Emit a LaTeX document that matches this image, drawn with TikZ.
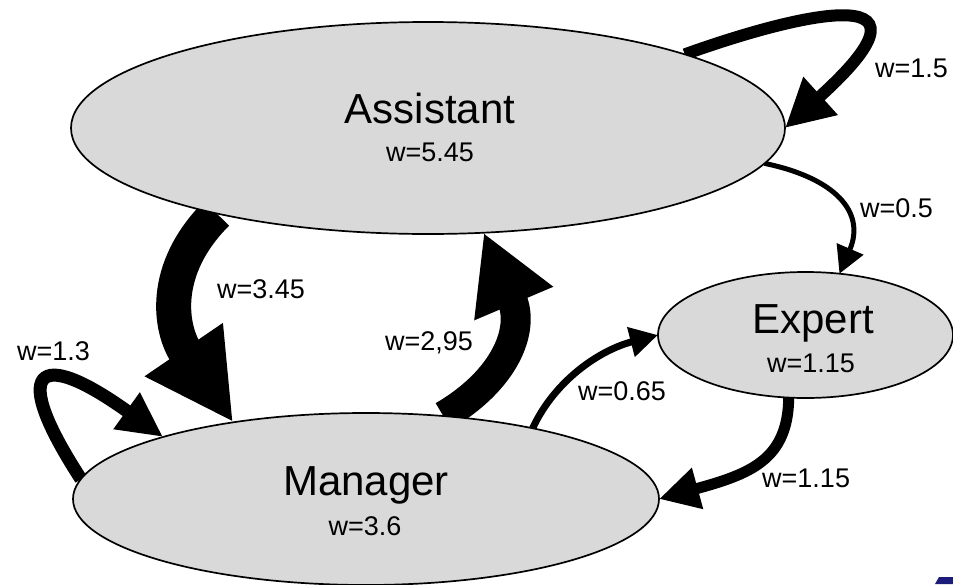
\documentclass[tikz,border=0pt]{standalone}
\usepackage{fontspec}
\setmainfont{Liberation Sans}
\usetikzlibrary{arrows.meta,shapes.geometric,backgrounds}
\definecolor{nodegray}{HTML}{D9D9D9}
\definecolor{cornerblue}{HTML}{1C1C7A}
\begin{document}
\begin{tikzpicture}[x=1pt,y=-1pt,
  state/.style={ellipse, draw=black, line width=1.7pt, fill=nodegray, inner sep=0pt, outer sep=0pt},
  bigtext/.style={font=\fontsize{42}{48}\selectfont, inner sep=0pt, anchor=base},
  smalltext/.style={font=\fontsize{27}{32}\selectfont, inner sep=0pt, anchor=base},
  elabel/.style={font=\fontsize{27}{32}\selectfont, inner sep=0pt, anchor=base west},
  conn/.style={draw=black}
]
\useasboundingbox (0,0) rectangle (953,584);

% states
\node[state, minimum width=714pt, minimum height=212pt] (A) at (428,128) {};
\node[state, minimum width=295pt, minimum height=126pt] (E) at (805.5,335) {};
\node[state, minimum width=586pt, minimum height=172pt] (M) at (366,499) {};

% state texts
\node[bigtext] (At) at (430,123) {Assistant};
\node[smalltext] (Aw) at (430,161) {w=5.45};
\node[bigtext] (Et) at (813,333) {Expert};
\node[smalltext] (Ew) at (811,372) {w=1.15};
\node[bigtext] (Mt) at (366,495) {Manager};
\node[smalltext] (Mw) at (365,535) {w=3.6};

% connectors
\begin{scope}[on background layer]
  \draw[conn, line width=12pt, -{Triangle[length=48pt,width=48pt]}]
    (A.16.5) .. controls (780,20) and (960,-30) .. (A.0);
  \draw[conn, line width=5pt, -{Triangle[length=27pt,width=28pt]}]
    (A.354) .. controls (835,178) and (866,212) .. (E.61.6);
  \draw[conn, line width=35pt, -{Triangle[length=88pt,width=88pt]}]
    (A.202.4) .. controls (160,270) and (170,329.5) .. (M.150.9);
  \draw[conn, line width=30pt, -{Triangle[length=77pt,width=80pt]}]
    (M.47.8) .. controls (505,380) and (525,330) .. (A.298);
  \draw[conn, line width=13pt, -{Triangle[length=45pt,width=42pt]}]
    (M.176.2) .. controls (10,370) and (35,345) .. (M.163);
  \draw[conn, line width=7pt, -{Triangle[length=28pt,width=29pt]}]
    (M.23.7) .. controls (555,380) and (600,350) .. (E.180);
  \draw[conn, line width=11pt, -{Triangle[length=40pt,width=40pt]}]
    (E.255.3) .. controls (788,460) and (750,474) .. (M.0);
\end{scope}

% connector labels
\node[elabel] (l1) at (875,77) {w=1.5};
\node[elabel] (l2) at (860,217) {w=0.5};
\node[elabel] (l3) at (217,298) {w=3.45};
\node[elabel] (l4) at (17,360) {w=1.3};
\node[elabel] (l5) at (385,350) {w=2,95};
\node[elabel] (l6) at (578,400) {w=0.65};
\node[elabel] (l7) at (762,487) {w=1.15};

% corner fragment
\fill[cornerblue] (935,584) -- (939,577) -- (953,577) -- (953,584) -- cycle;
\end{tikzpicture}
\end{document}
